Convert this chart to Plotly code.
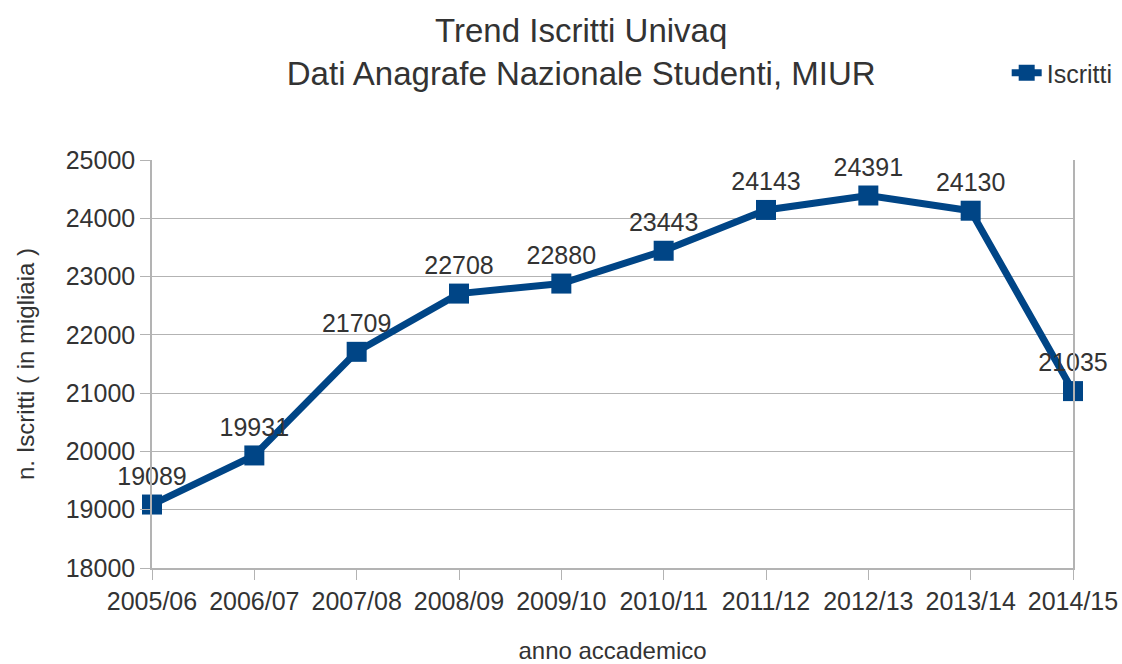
import plotly.graph_objects as go

anni = ["2005/06", "2006/07", "2007/08", "2008/09", "2009/10",
        "2010/11", "2011/12", "2012/13", "2013/14", "2014/15"]
iscritti = [19089, 19931, 21709, 22708, 22880, 23443, 24143, 24391, 24130, 21035]
y_ticks = [18000, 19000, 20000, 21000, 22000, 23000, 24000, 25000]

blue = "#004586"
grid = "#b3b3b3"
txt = "#333333"
font = "Liberation Sans, Arial, sans-serif"

fig = go.Figure()
fig.add_trace(go.Scatter(
    x=anni, y=iscritti, name="Iscritti",
    mode="lines+markers+text",
    line=dict(color=blue, width=7),
    marker=dict(symbol="square", size=20, color=blue),
    text=[str(v) for v in iscritti],
    textposition="top center",
    textfont=dict(size=25, color=txt, family=font),
    cliponaxis=False,
))

fig.update_layout(
    width=1122, height=664,
    paper_bgcolor="white", plot_bgcolor="white",
    margin=dict(l=152, r=49, t=160, b=96, autoexpand=False),
    font=dict(family=font, color=txt),
    title=dict(
        text="Trend Iscritti Univaq<br>Dati Anagrafe Nazionale Studenti, MIUR",
        x=0.518, xanchor="center", xref="container",
        y=1 - 42 / 664, yanchor="middle", yref="container",
        font=dict(size=33, color=txt),
    ),
    showlegend=True,
    legend=dict(x=0.928, xanchor="left", y=1.213, yanchor="middle",
                font=dict(size=25, color=txt),
                bgcolor="rgba(0,0,0,0)"),
)

fig.update_xaxes(
    type="category", range=[0, len(anni) - 1],
    showgrid=False, showline=True, linecolor=grid, linewidth=1.5,
    ticks="outside", ticklen=10, tickcolor=grid,
    tickfont=dict(size=25, color=txt),
    title=dict(text="anno accademico", font=dict(size=24, color=txt), standoff=30),
)
fig.update_yaxes(
    range=[18000, 25000], tickvals=y_ticks, tickformat="d",
    showgrid=True, gridcolor=grid, gridwidth=1,
    showline=True, mirror=True, linecolor=grid, linewidth=1.5,
    ticks="outside", ticklen=10, tickcolor=grid,
    tickfont=dict(size=25, color=txt),
    zeroline=False,
    title=dict(text="n. Iscritti ( in migliaia )", font=dict(size=24, color=txt), standoff=24),
)

fig.write_html("out.html", config={"displayModeBar": False},
               post_script="document.body.style.margin='0';")
